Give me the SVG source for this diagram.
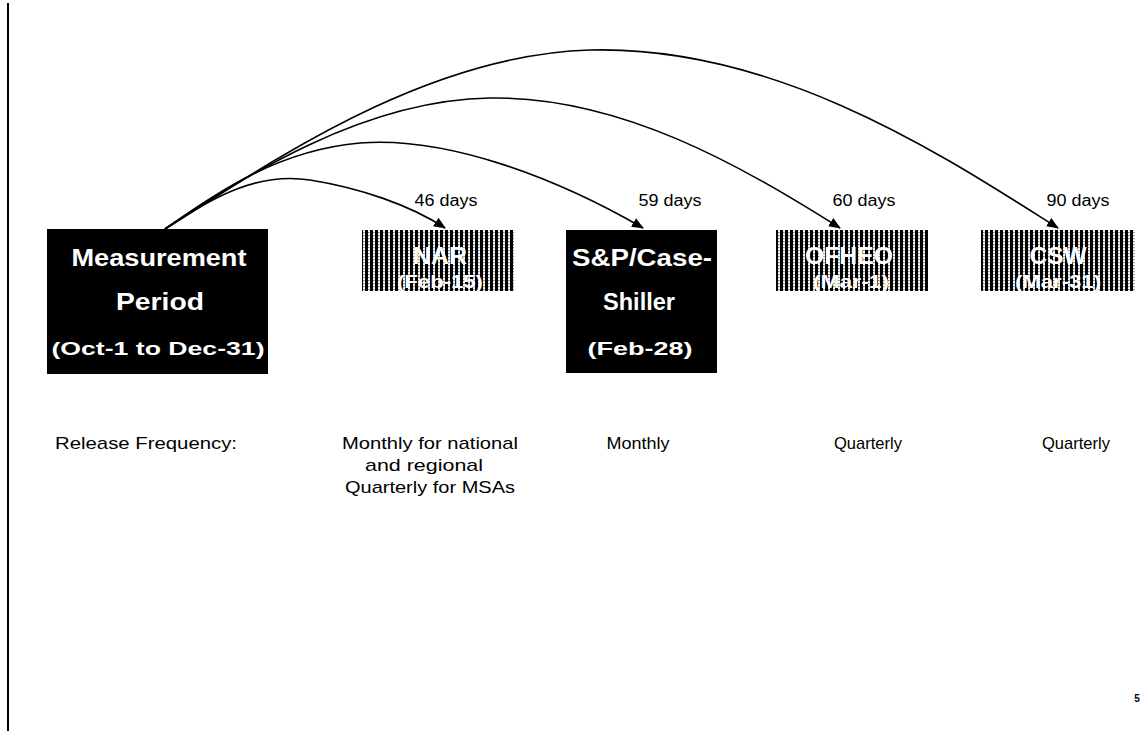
<svg xmlns="http://www.w3.org/2000/svg" width="1147" height="736" viewBox="0 0 1147 736">
<defs>
<pattern id="stripes" patternUnits="userSpaceOnUse" width="5" height="6">
<rect width="5" height="6" fill="#fff"/>
<rect x="0" width="3" height="6" fill="#000"/>
<rect x="3.5" y="1" width="0.8" height="1.2" fill="#000"/>
<rect x="3.5" y="4" width="0.8" height="1.2" fill="#000"/>
</pattern>
<marker id="arr" markerWidth="12" markerHeight="12" refX="11" refY="6" orient="auto" markerUnits="userSpaceOnUse">
<path d="M0,1 L12,6 L0,11 Z" fill="#000"/>
</marker>
<style>
.box{fill:#000}
.hatch{fill:url(#stripes)}
.bt{font-family:"Liberation Sans",Arial,sans-serif;font-weight:bold;fill:#fff;text-anchor:middle}
.dl{font-family:"Liberation Sans",Arial,sans-serif;font-size:16px;fill:#000;text-anchor:middle}
.ft{font-family:"Liberation Sans",Arial,sans-serif;font-size:17px;fill:#000;text-anchor:middle}
.con{fill:none;stroke:#000;stroke-width:1.6}
</style>
</defs>
<rect width="1147" height="736" fill="#fff"/>
<line x1="8" y1="3" x2="8" y2="731" stroke="#000" stroke-width="2"/>

<g id="connectors">
<path class="con" d="M165,229 C215,195 260,172 310,180 C360,188 410,205 445,228" marker-end="url(#arr)"/>
<path class="con" d="M165,229 C220,190 280,150 360,143 C450,136 560,180 643,228" marker-end="url(#arr)"/>
<path class="con" d="M165,229 C240,180 360,100 490,98 C620,96 740,165 840,228" marker-end="url(#arr)"/>
<path class="con" d="M165,229 C260,170 420,55 590,50 C780,45 950,160 1058,228" marker-end="url(#arr)"/>
<text class="dl" x="446" y="206" textLength="63" lengthAdjust="spacingAndGlyphs">46 days</text>
<text class="dl" x="670" y="206" textLength="63" lengthAdjust="spacingAndGlyphs">59 days</text>
<text class="dl" x="864" y="206" textLength="63" lengthAdjust="spacingAndGlyphs">60 days</text>
<text class="dl" x="1078" y="206" textLength="63" lengthAdjust="spacingAndGlyphs">90 days</text>
</g>

<g id="measurement">
<rect class="box" x="47" y="229" width="221" height="145"/>
<text class="bt" x="159" y="266" font-size="23" textLength="175" lengthAdjust="spacingAndGlyphs">Measurement</text>
<text class="bt" x="160" y="310" font-size="23" textLength="88" lengthAdjust="spacingAndGlyphs">Period</text>
<text class="bt" x="158" y="355" font-size="19" textLength="213" lengthAdjust="spacingAndGlyphs">(Oct-1 to Dec-31)</text>
</g>

<g id="nar">
<rect class="hatch" x="362" y="230" width="152" height="61"/>
<text class="bt" x="440" y="264" font-size="23" textLength="54" lengthAdjust="spacingAndGlyphs">NAR</text>
<text class="bt" x="440" y="288" font-size="19" textLength="86" lengthAdjust="spacingAndGlyphs">(Feb-15)</text>
</g>

<g id="sp">
<rect class="box" x="566" y="230" width="151" height="143"/>
<text class="bt" x="642" y="266" font-size="23" textLength="140" lengthAdjust="spacingAndGlyphs">S&amp;P/Case-</text>
<text class="bt" x="639" y="310" font-size="23" textLength="72" lengthAdjust="spacingAndGlyphs">Shiller</text>
<text class="bt" x="640" y="355" font-size="19" textLength="105" lengthAdjust="spacingAndGlyphs">(Feb-28)</text>
</g>

<g id="ofheo">
<rect class="hatch" x="776" y="230" width="152" height="61"/>
<text class="bt" x="849" y="264" font-size="23" textLength="88" lengthAdjust="spacingAndGlyphs">OFHEO</text>
<text class="bt" x="851" y="288" font-size="19" textLength="76" lengthAdjust="spacingAndGlyphs">(Mar-1)</text>
</g>

<g id="csw">
<rect class="hatch" x="981" y="230" width="154" height="61"/>
<text class="bt" x="1058" y="264" font-size="23" textLength="57" lengthAdjust="spacingAndGlyphs">CSW</text>
<text class="bt" x="1058" y="288" font-size="19" textLength="86" lengthAdjust="spacingAndGlyphs">(Mar-31)</text>
</g>

<g id="freq">
<text class="ft" x="146" y="449" textLength="182" lengthAdjust="spacingAndGlyphs">Release Frequency:</text>
<text class="ft" x="430" y="449" textLength="176" lengthAdjust="spacingAndGlyphs">Monthly for national</text>
<text class="ft" x="424" y="471" textLength="118" lengthAdjust="spacingAndGlyphs">and regional</text>
<text class="ft" x="430" y="493" textLength="170" lengthAdjust="spacingAndGlyphs">Quarterly for MSAs</text>
<text class="ft" x="638" y="449" textLength="63" lengthAdjust="spacingAndGlyphs">Monthly</text>
<text class="ft" x="868" y="449" textLength="68" lengthAdjust="spacingAndGlyphs">Quarterly</text>
<text class="ft" x="1076" y="449" textLength="68" lengthAdjust="spacingAndGlyphs">Quarterly</text>
</g>

<text x="1137" y="702" font-family="Liberation Sans,Arial,sans-serif" font-weight="bold" font-size="10" text-anchor="middle">5</text>
</svg>
